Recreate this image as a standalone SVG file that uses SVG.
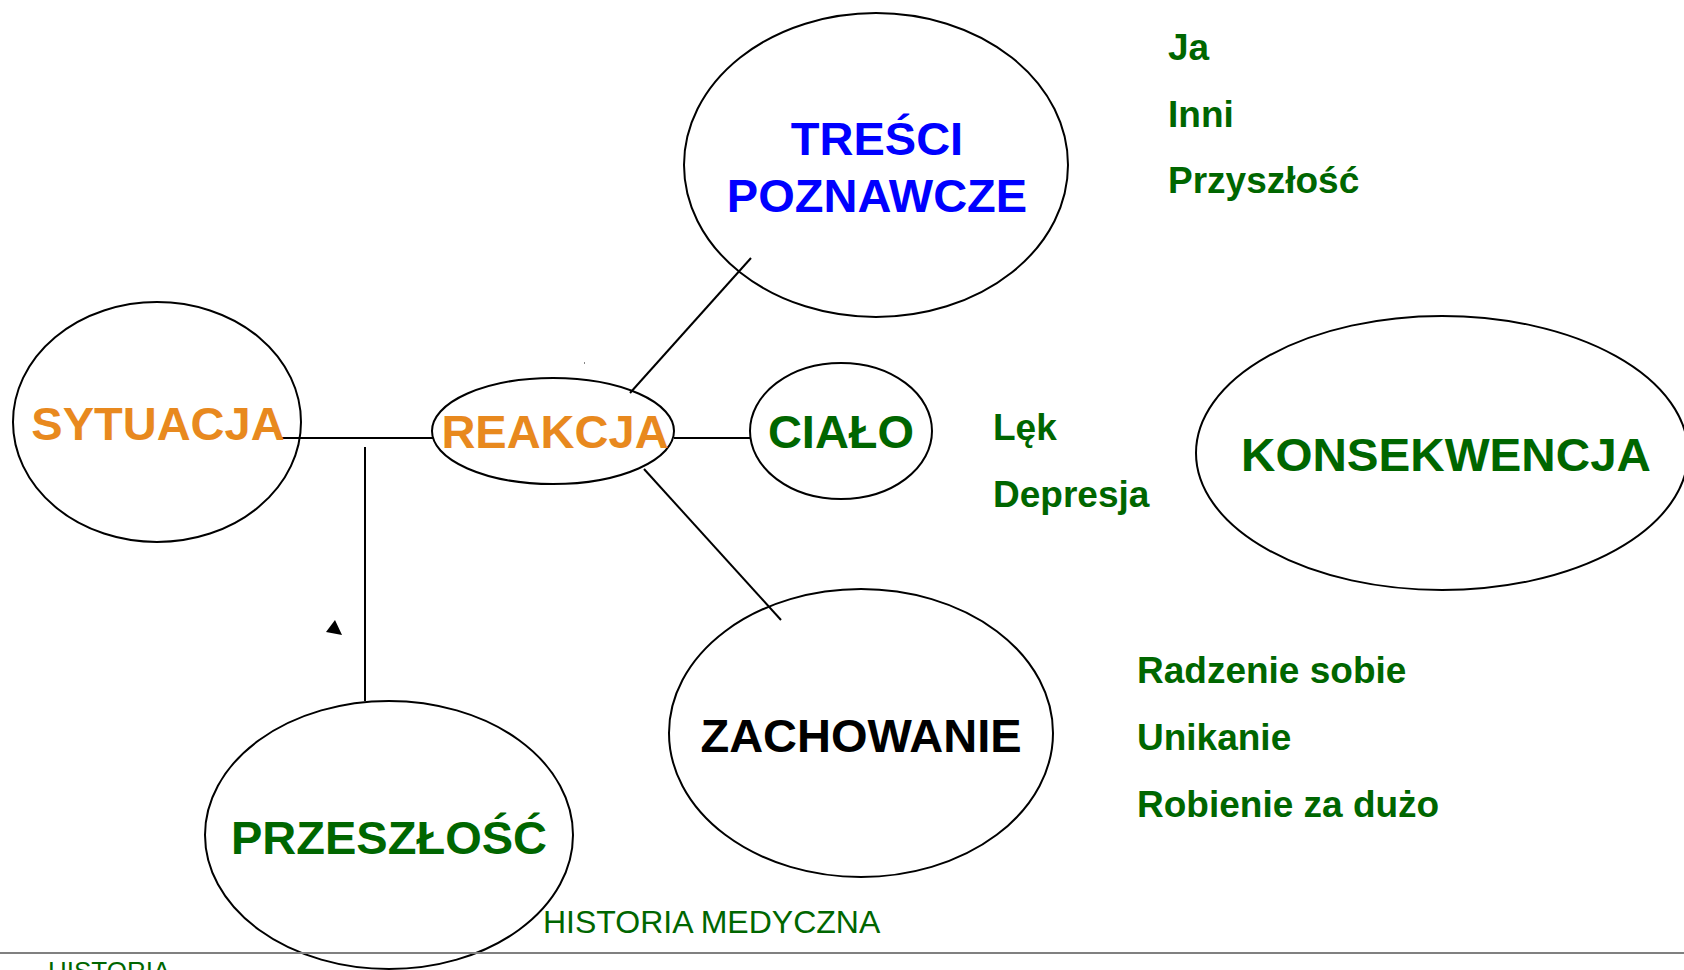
<svg xmlns="http://www.w3.org/2000/svg" width="1684" height="970" viewBox="0 0 1684 970">
<style>
.node ellipse { fill: none; stroke: #000; stroke-width: 2; }
.lbl { font-family: "Liberation Sans", Arial, sans-serif; font-weight: bold; font-size: 47px; text-anchor: middle; }
.item { font-family: "Liberation Sans", Arial, sans-serif; font-weight: bold; font-size: 37px; fill: #006600; }
.orange { fill: #E8891E; }
.green { fill: #006600; }
.blue { fill: #0000FF; }
.black { fill: #000; }
.conn line { stroke: #000; stroke-width: 2; }
.foot { font-family: "Liberation Sans", Arial, sans-serif; fill: #006600; }
</style>
<rect width="1684" height="970" fill="#fff"/>
<g id="connectors" class="conn">
  <line x1="281" y1="438" x2="433" y2="438"/>
  <line x1="674" y1="438" x2="750" y2="438"/>
  <line x1="365" y1="447" x2="365" y2="701"/>
  <line x1="630" y1="393" x2="751" y2="258"/>
  <line x1="644" y1="469" x2="781" y2="620"/>
  <polygon points="326,632 335,620 342,635" fill="#000" stroke="none"/>
</g>
<g id="sytuacja" class="node">
  <ellipse cx="157" cy="422" rx="144" ry="120"/>
  <text class="lbl orange" x="158" y="440">SYTUACJA</text>
</g>
<g id="reakcja" class="node">
  <ellipse cx="553" cy="431" rx="121" ry="53"/>
  <text class="lbl orange" x="555" y="448">REAKCJA</text>
</g>
<g id="tresci" class="node">
  <ellipse cx="876" cy="165" rx="192" ry="152"/>
  <text class="lbl blue" x="877" y="155">TREŚCI</text>
  <text class="lbl blue" x="877" y="212">POZNAWCZE</text>
</g>
<g id="cialo" class="node">
  <ellipse cx="841" cy="431" rx="91" ry="68"/>
  <text class="lbl green" x="841" y="448">CIAŁO</text>
</g>
<g id="zachowanie" class="node">
  <ellipse cx="861" cy="733" rx="192" ry="144"/>
  <text class="lbl black" x="861" y="752">ZACHOWANIE</text>
</g>
<g id="przeszlosc" class="node">
  <ellipse cx="389" cy="835" rx="184" ry="134"/>
  <text class="lbl green" x="389" y="854">PRZESZŁOŚĆ</text>
</g>
<g id="konsekwencja" class="node">
  <ellipse cx="1442" cy="453" rx="246" ry="137"/>
  <text class="lbl green" x="1446" y="471" textLength="410" lengthAdjust="spacingAndGlyphs">KONSEKWENCJA</text>
</g>
<g id="tresci-items">
  <text class="item" x="1168" y="60">Ja</text>
  <text class="item" x="1168" y="127">Inni</text>
  <text class="item" x="1168" y="193">Przyszłość</text>
</g>
<g id="cialo-items">
  <text class="item" x="993" y="440">Lęk</text>
  <text class="item" x="993" y="507">Depresja</text>
</g>
<g id="zachowanie-items">
  <text class="item" x="1137" y="683">Radzenie sobie</text>
  <text class="item" x="1137" y="750">Unikanie</text>
  <text class="item" x="1137" y="817">Robienie za dużo</text>
</g>
<rect x="584" y="362" width="1" height="2" fill="#888"/>
<text class="foot" x="543" y="933" font-size="32">HISTORIA MEDYCZNA</text>
<line x1="0" y1="953" x2="1684" y2="953" stroke="#808080" stroke-width="2"/>
<text class="foot" x="48" y="980" font-size="26">HISTORIA</text>
</svg>
